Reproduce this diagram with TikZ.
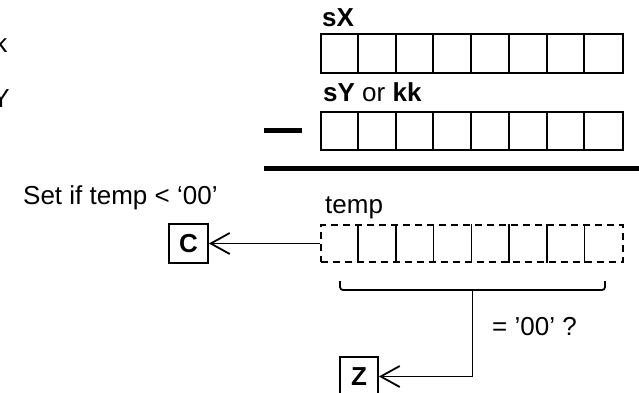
\documentclass[tikz,border=0pt]{standalone}
\usepackage{fontspec}
\setmainfont{Liberation Sans}
\usetikzlibrary{arrows.meta}
\begin{document}
\begin{tikzpicture}[x=1pt,y=-1pt,
  txt/.style={inner sep=0pt, font=\fontsize{26}{30}\selectfont},
  reg/.style={draw, line width=1.8pt, minimum width=302pt, inner sep=0pt},
  flagbox/.style={draw, line width=1.8pt, minimum width=39pt, minimum height=39pt, inner sep=0pt, font=\fontsize{26}{30}\selectfont\bfseries},
  arr/.style={line width=1.8pt, -{Straight Barb[length=19pt,width=21pt,line width=1.8pt]}},
  thickbar/.style={line width=5pt}
]
\useasboundingbox (0,0) rectangle (639,393);

% partial labels cut at the left edge
\node[txt, anchor=base east] (lk) at (7.5,53) {k};
\node[txt, anchor=base east] (lY) at (10,108) {Y};

% sX register
\node[txt, anchor=base west] (lsx) at (322,27) {\bfseries sX};
\node[reg, minimum height=39pt] (sx) at (472,53.5) {};
\foreach \i in {1,...,7}{\draw[line width=1.8pt] ([xshift=37.75*\i pt]sx.north west) -- ([xshift=37.75*\i pt]sx.south west);}

% sY register
\node[txt, anchor=base west] (lsy) at (323,102) {\textbf{sY} or \textbf{kk}};
\node[reg, minimum height=38pt] (sy) at (472,131) {};
\foreach \i in {1,...,7}{\draw[line width=1.8pt] ([xshift=37.75*\i pt]sy.north west) -- ([xshift=37.75*\i pt]sy.south west);}

% minus sign and result bar
\coordinate (m1) at (264,130); \coordinate (m2) at (302,130);
\draw[thickbar] (m1) -- (m2);
\coordinate (b1) at (264,168); \coordinate (b2) at (639,168);
\draw[thickbar] (b1) -- (b2);

% temp register
\node[txt, anchor=base west] (lset) at (23,204) {Set if temp < ‘00’};
\node[txt, anchor=base west] (ltemp) at (325,213) {temp};
\node[reg, dash pattern=on 7pt off 5pt, line width=1.5pt, minimum height=37pt] (tmp) at (472,243.5) {};
\foreach \i in {1,...,7}{\draw[line width=1.5pt] ([xshift=37.75*\i pt]tmp.north west) -- ([xshift=37.75*\i pt]tmp.south west);}

% C flag
\node[flagbox] (C) at (188.5,243.5) {C};
\draw[arr] (tmp.west) -- (C.east);

% brace and Z flag
\draw[line width=1.8pt, rounded corners=3pt] (340,281) -- (340,290) -- (605,290) -- (605,281);
\coordinate (bm) at (472.5,290);
\node[flagbox, minimum width=38pt] (Z) at (359,376.5) {Z};
\draw[arr] (bm) |- (Z.east);
\node[txt, anchor=base west] (leq) at (492,335) {= ’00’ ?};
\end{tikzpicture}
\end{document}
